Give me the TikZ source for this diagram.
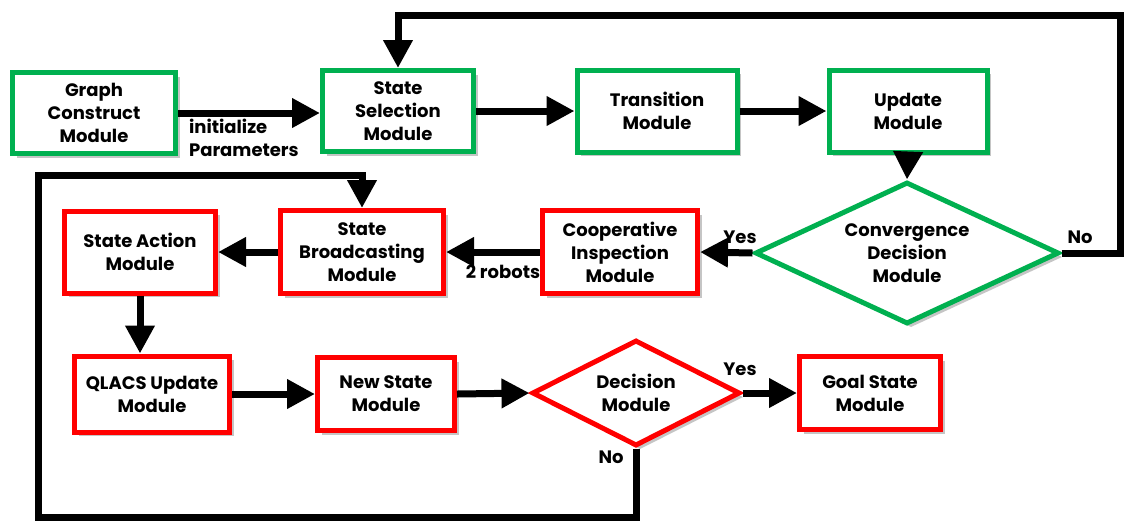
\documentclass[tikz,border=0pt]{standalone}
\usepackage{fontspec}
\setmainfont{Poppins}
\usetikzlibrary{arrows.meta,shapes.geometric,shadows}
\definecolor{boxgreen}{RGB}{0,176,80}
\definecolor{boxred}{RGB}{255,0,0}
\tikzset{
  module/.style={draw, line width=2.5pt, fill=white, align=center, inner sep=0pt,
    font=\bfseries\fontsize{9}{11.5}\selectfont,
    drop shadow={shadow xshift=2pt, shadow yshift=-2pt, fill=black!45}},
  okbox/.style={module, draw=boxgreen},
  badbox/.style={module, draw=boxred},
  decision/.style={diamond, aspect=2.2},
  flow/.style={line width=3.5pt, -{Triangle[length=14pt,width=14pt]},
    preaction={draw=black!35, transform canvas={shift={(1.5pt,-1.5pt)}}}},
  lbl/.style={font=\bfseries\fontsize{9}{11.5}\selectfont}
}
\begin{document}
\begin{tikzpicture}[x=0.5pt, y=-0.5pt]
      \useasboundingbox (0,0) rectangle (1128,521);
      % first row
      \node[okbox, minimum width=81.5pt, minimum height=40.5pt] (graph) at (94,113) {Graph\\Construct\\Module};
      \node[okbox, minimum width=75.5pt, minimum height=40.5pt] (sel) at (398,111) {State\\Selection\\Module};
      \node[okbox, minimum width=80pt, minimum height=41pt] (trans) at (657,111) {Transition\\Module};
      \node[okbox, minimum width=79pt, minimum height=41pt] (upd) at (908,111) {Update\\Module};
      % second row
      \node[okbox, decision, minimum width=152pt, minimum height=71pt] (conv) at (907,253) {Convergence\\Decision\\Module};
      \node[badbox, minimum width=77.5pt, minimum height=41.5pt] (coop) at (620,252) {Cooperative\\Inspection\\Module};
      \node[badbox, minimum width=81.5pt, minimum height=41.5pt] (bcast) at (362,252) {State\\Broadcasting\\Module};
      \node[badbox, minimum width=75.5pt, minimum height=41pt] (act) at (140,252) {State Action\\Module};
      % third row
      \node[badbox, minimum width=77.5pt, minimum height=38pt] (qlacs) at (152,394) {QLACS Update\\Module};
      \node[badbox, minimum width=68.5pt, minimum height=36.5pt] (new) at (386,394) {New State\\Module};
      \node[badbox, decision, minimum width=104pt, minimum height=53pt] (dec) at (636,393) {Decision\\Module};
      \node[badbox, minimum width=70.5pt, minimum height=36.5pt] (goal) at (870,393) {Goal State\\Module};
      % loop corners
      \coordinate (topright) at (1120,15);
      \coordinate (botleft) at (38,517);
      \coordinate (loopcorner) at (38,175);
      \begin{scope}[flow]
        \draw (graph.east) -- (graph.east -| sel.west);
        \draw (sel.east) -- (trans.west);
        \draw (trans.east) -- (upd.west);
        \draw (upd.south) -- (conv.north);
        \draw (conv.west) -- (coop.east);
        \draw (conv.east) -| (topright) -| (sel.north);
        \draw (coop.west) -- (bcast.east);
        \draw (bcast.west) -- (act.east);
        \draw (act.south) -- (act.south |- qlacs.north);
        \draw (qlacs.east) -- (new.west);
        \draw (new.east) -- (dec.west);
        \draw (dec.east) -- (goal.west);
        \draw (dec.south) |- (botleft) -- (loopcorner) -| (bcast.north);
      \end{scope}
      % labels
      \node[lbl, anchor=north west, align=left] (init) at (182,112) {initialize\\Parameters};
      \node[lbl] (yes1) at (740,237) {Yes};
      \node[lbl] (no1) at (1080,237) {No};
      \node[lbl] (robots) at (503,272) {2 robots};
      \node[lbl] (yes2) at (740,369) {Yes};
      \node[lbl] (no2) at (611,457) {No};
    \end{tikzpicture}
\end{document}
